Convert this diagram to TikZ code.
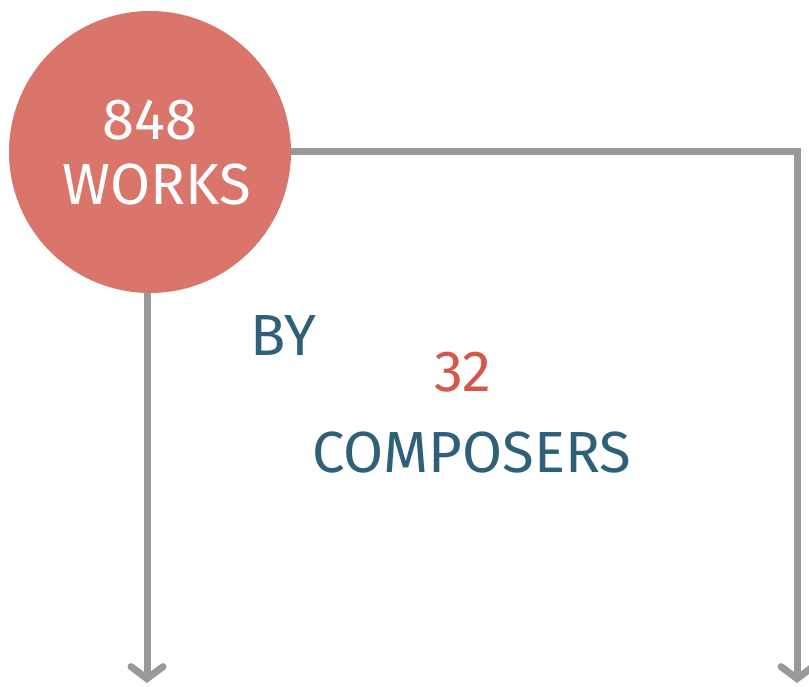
\documentclass[tikz,border=0pt]{standalone}
\usepackage{fontspec}
\setmainfont{Fira Sans}
\usetikzlibrary{arrows.meta}
\definecolor{worksred}{HTML}{D9756A}
\definecolor{numred}{HTML}{D4574A}
\definecolor{textblue}{HTML}{2F6079}
\definecolor{linegray}{HTML}{999999}
\tikzset{
  flow/.style={draw=linegray, line width=7pt, -{Straight Barb[length=12pt, width=32pt, line width=7pt, line cap=round]}},
  bigtext/.style={font=\fontsize{58}{62}\selectfont, inner sep=0pt}
}
\begin{document}
\begin{tikzpicture}[x=1pt,y=-1pt]
  \useasboundingbox (0,0) rectangle (809,687);
  % circle with the count
  \node[circle, fill=worksred, minimum size=282pt, inner sep=0pt] (works) at (150,152) {};
  \node[bigtext, text=white] (num) at (150,120) {848};
  \node[bigtext, text=white] (lbl) at (157,185) {WORKS};
  % the two branches
  \coordinate (leftend) at (147,683);
  \coordinate (rightend) at (797,683);
  \draw[flow] (works.south -| leftend) -- (leftend);
  \draw[flow] (works.east) -| (rightend);
  % composers
  \node[bigtext, text=textblue] (by) at (283,336) {BY};
  \node[bigtext, text=numred] (count) at (463,372) {32};
  \node[bigtext, text=textblue] (comp) at (472,453) {COMPOSERS};
\end{tikzpicture}
\end{document}
